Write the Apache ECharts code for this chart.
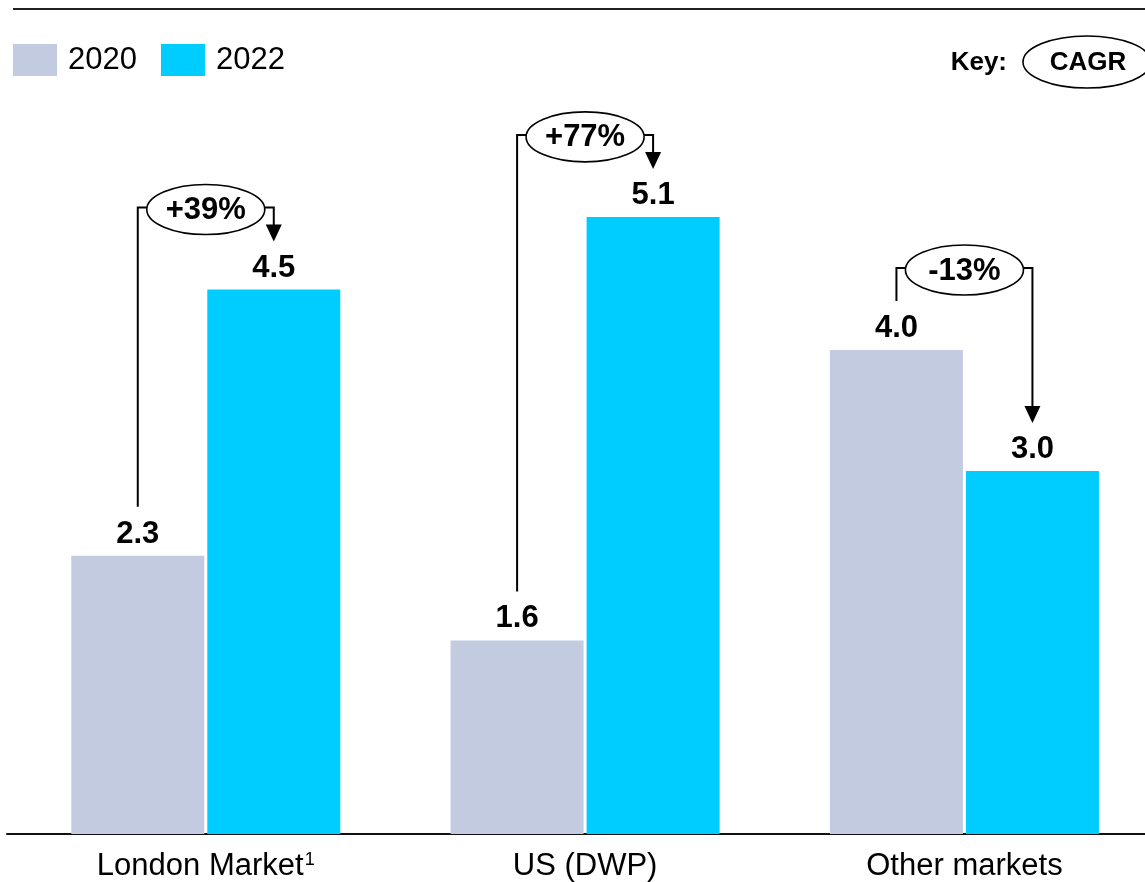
<!DOCTYPE html>
<html>
<head>
<meta charset="utf-8">
<script src="https://cdn.jsdelivr.net/npm/echarts@6/dist/echarts.min.js"></script>
<style>
html,body{margin:0;padding:0;background:#fff;}
#c{width:1145px;height:882px;}
</style>
</head>
<body>
<div id="c"></div>
<script>
const categories = ['London Market', 'US (DWP)', 'Other markets'];
const footnotes = ['1', '', ''];
const seriesNames = ['2020', '2022'];
const values2020 = [2.3, 1.6, 4.0];
const values2022 = [4.5, 5.1, 3.0];
const cagrLabels = ['+39%', '+77%', '-13%'];

const FONT = "'Liberation Sans', Arial, Helvetica, sans-serif";
const C2020 = '#c3cbe0';
const C2022 = '#00cdff';
const BAR_W = 133;
const BAR_GAP_PX = 3;

const chart = echarts.init(document.getElementById('c'), null, {renderer: 'canvas'});

const catIndex = categories.map((c, i) => i);
const data2020 = catIndex.map(i => [i, values2020[i]]);
const data2022 = catIndex.map(i => [i, values2022[i]]);
const bracketData = catIndex.map(i => [i, values2020[i], values2022[i]]);

function renderBracket(params, api) {
  const i = api.value(0);
  const v0 = api.value(1), v1 = api.value(2);
  const cx = api.coord([i, 0])[0];
  const off = (BAR_W + BAR_GAP_PX) / 2;
  const x0 = cx - off, x1 = cx + off;
  const y0 = api.coord([i, v0])[1];
  const y1 = api.coord([i, v1])[1];
  const top = Math.min(y0, y1) - 82;
  const rx = 59, ry = 25;
  const lineStyle = {stroke: '#000', lineWidth: 2, fill: null};
  const tipY = y1 - 48;
  return {
    type: 'group',
    children: [
      {type: 'polyline', shape: {points: [[x0, y0 - 49], [x0, top], [cx - rx, top]]}, style: lineStyle},
      {type: 'polyline', shape: {points: [[cx + rx, top], [x1, top], [x1, tipY - 15]]}, style: lineStyle},
      {type: 'polygon', shape: {points: [[x1 - 8, tipY - 17], [x1 + 8, tipY - 17], [x1, tipY]]}, style: {fill: '#000'}},
      {type: 'ellipse', shape: {cx: cx, cy: top + 2, rx: rx, ry: ry}, style: {fill: '#fff', stroke: '#000', lineWidth: 1.6}},
      {type: 'text', x: cx, y: top + 3, style: {text: cagrLabels[params.dataIndex], font: 'bold 31px ' + FONT, fill: '#000', align: 'center', verticalAlign: 'middle'}}
    ]
  };
}

const labelCfg = {show: true, position: 'top', distance: 6, color: '#000', fontSize: 31, fontWeight: 'bold', fontFamily: FONT,
  formatter: p => p.value[1].toFixed(1)};

const option = {
  animation: false,
  backgroundColor: '#fff',
  textStyle: {fontFamily: FONT},
  legend: {
    left: 13, top: 44, padding: 0,
    itemWidth: 44, itemHeight: 32, itemGap: 24,
    icon: 'rect',
    data: seriesNames,
    textStyle: {fontSize: 31, color: '#000', fontFamily: FONT, padding: [5, 0, 0, 6]}
  },
  grid: {left: 7, right: 0, top: 108, bottom: 46, containLabel: false},
  xAxis: {
    type: 'value',
    min: -0.524, max: 2.476,
    splitLine: {show: false},
    axisLine: {show: true, onZero: false, lineStyle: {color: '#111', width: 2}},
    axisTick: {show: false},
    axisLabel: {
      customValues: catIndex,
      margin: 17,
      color: '#000',
      fontSize: 31,
      fontFamily: FONT,
      formatter: function (v) {
        const idx = Math.round(v);
        const name = categories[idx];
        if (name === undefined) return '';
        return footnotes[idx] ? '{n|' + name + '}{s|' + footnotes[idx] + '}' : '{n|' + name + '}';
      },
      rich: {
        n: {fontSize: 31, fontFamily: FONT, color: '#000'},
        s: {fontSize: 18, fontFamily: FONT, color: '#000', padding: [0, 0, 12, 1]}
      }
    }
  },
  yAxis: {
    type: 'value', min: 0, max: 6, interval: 1,
    show: false,
    splitLine: {show: false}
  },
  series: [
    {
      name: seriesNames[0], type: 'bar', data: data2020,
      barWidth: BAR_W, barGap: (BAR_GAP_PX / BAR_W * 100) + '%',
      itemStyle: {color: C2020},
      label: labelCfg
    },
    {
      name: seriesNames[1], type: 'bar', data: data2022,
      barWidth: BAR_W,
      itemStyle: {color: C2022},
      label: labelCfg
    },
    {
      type: 'custom', name: 'cagr', data: bracketData,
      encode: {x: 0, y: [1, 2]},
      clip: false, z: 5, silent: true,
      renderItem: renderBracket
    }
  ],
  graphic: [
    {type: 'line', shape: {x1: 13, y1: 9, x2: 1145, y2: 9}, style: {stroke: '#222', lineWidth: 2}},
    {type: 'text', x: 1007, y: 63, style: {text: 'Key:', font: 'bold 26px ' + FONT, fill: '#000', align: 'right', verticalAlign: 'middle'}},
    {type: 'ellipse', shape: {cx: 1087, cy: 62, rx: 64, ry: 26}, style: {fill: '#fff', stroke: '#000', lineWidth: 1.6}},
    {type: 'text', x: 1088, y: 63, style: {text: 'CAGR', font: 'bold 26px ' + FONT, fill: '#000', align: 'center', verticalAlign: 'middle'}}
  ]
};
chart.setOption(option);
</script>
</body>
</html>
